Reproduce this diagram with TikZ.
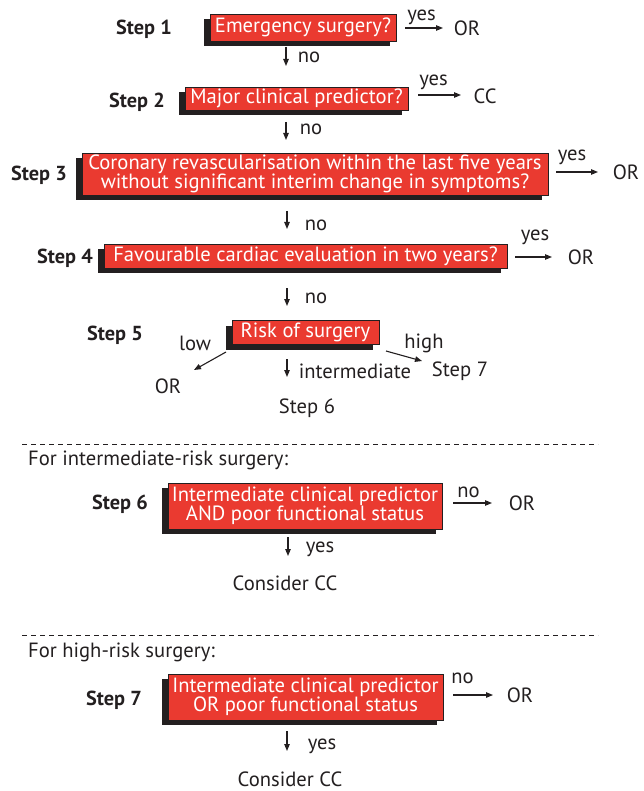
\documentclass[tikz,border=0pt]{standalone}
\usepackage{fontspec}
\setmainfont{PT Sans}
\usetikzlibrary{arrows.meta,shadows}
\definecolor{boxred}{RGB}{234,58,48}
\definecolor{ink}{RGB}{35,31,32}
\begin{document}
\begin{tikzpicture}[x=1pt,y=-1pt,
  every node/.style={font=\fontsize{20.6}{19}\selectfont, text=ink, inner sep=0pt},
  qbox/.style={draw=ink, line width=0.8pt, fill=boxred, text=white, align=center,
    drop shadow={shadow xshift=-6pt, shadow yshift=-5pt, fill=ink, opacity=1}},
  steplbl/.style={font=\fontsize{20.3}{19}\selectfont\bfseries},
  arr/.style={-{Triangle[length=7pt,width=5.5pt]}, line width=1.1pt, draw=ink},
  sepline/.style={dash pattern=on 5pt off 4pt, line width=0.8pt, draw=ink}
]
\useasboundingbox (0,0) rectangle (643,791);

% boxes
\node[qbox, minimum width=186pt, minimum height=27pt] (b1) at (303,27.5) {Emergency surgery?};
\node[qbox, minimum width=223pt, minimum height=23pt] (b2) at (296.5,98.5) {Major clinical predictor?};
\node[qbox, minimum width=466pt, minimum height=42pt] (b3) at (315,174) {Coronary revascularisation within the last five years\\without significant interim change in symptoms?};
\node[qbox, minimum width=403pt, minimum height=24pt] (b4) at (305.5,256) {Favourable cardiac evaluation in two years?};
\node[qbox, minimum width=147pt, minimum height=24pt] (b5) at (305.5,332.5) {Risk of surgery};
\node[qbox, minimum width=274pt, minimum height=46pt] (b6) at (305,506) {Intermediate clinical predictor\\AND poor functional status};
\node[qbox, minimum width=275pt, minimum height=46pt] (b7) at (305.5,697) {Intermediate clinical predictor\\OR poor functional status};

% step labels
\node[steplbl] (s1) at (144,29) {Step 1};
\node[steplbl] (s2) at (137,102) {Step 2};
\node[steplbl] (s3) at (39,175) {Step 3};
\node[steplbl] (s4) at (65,258) {Step 4};
\node[steplbl] (s5) at (115,335) {Step 5};
\node[steplbl] (s6) at (120,504) {Step 6};
\node[steplbl] (s7) at (114,700) {Step 7};

% side outcomes
\coordinate (y1a) at (405,28); \coordinate (y1b) at (443,28);
\node (yes1) at (421.5,17) {yes};
\node (o1) at (467,28) {OR};
\draw[arr] (y1a) -- (y1b);

\coordinate (y2a) at (418,95); \coordinate (y2b) at (461,95);
\node (yes2) at (433.5,82) {yes};
\node (o2) at (485,96) {CC};
\draw[arr] (y2a) -- (y2b);

\coordinate (y3a) at (556,172); \coordinate (y3b) at (598,172);
\node (yes3) at (572,157) {yes};
\node (o3) at (626,172) {OR};
\draw[arr] (y3a) -- (y3b);

\coordinate (y4a) at (515,257); \coordinate (y4b) at (552,257);
\node (yes4) at (535,237) {yes};
\node (o4) at (581,257) {OR};
\draw[arr] (y4a) -- (y4b);

\coordinate (n6a) at (453,503); \coordinate (n6b) at (492,503);
\node (no6) at (468.5,492) {no};
\node (o6) at (522,503) {OR};
\draw[arr] (n6a) -- (n6b);

\coordinate (n7a) at (453,695); \coordinate (n7b) at (493,695);
\node (no7) at (462.5,678) {no};
\node (o7) at (520,695) {OR};
\draw[arr] (n7a) -- (n7b);

% down arrows
\coordinate (d1a) at (286,47); \coordinate (d1b) at (286,66);
\draw[arr] (d1a) -- (d1b);
\node (no1) at (309,57) {no};

\coordinate (d2a) at (286,122); \coordinate (d2b) at (286,140);
\draw[arr] (d2a) -- (d2b);
\node (no2) at (311,129) {no};

\coordinate (d3a) at (287,211); \coordinate (d3b) at (287,229);
\draw[arr] (d3a) -- (d3b);
\node (no3) at (316,225) {no};

\coordinate (d4a) at (287,288); \coordinate (d4b) at (287,306);
\draw[arr] (d4a) -- (d4b);
\node (no4) at (316,298) {no};

% step 5 branches
\coordinate (lowa) at (226,352); \coordinate (lowb) at (194,370);
\draw[arr] (lowa) -- (lowb);
\node (low) at (195,343) {low};
\node (o5) at (168,386) {OR};

\coordinate (higha) at (386,351); \coordinate (highb) at (422,361);
\draw[arr] (higha) -- (highb);
\node (high) at (424,343) {high};
\node (t7) at (460,371) {Step 7};

\coordinate (d5a) at (287,359); \coordinate (d5b) at (287,377);
\draw[arr] (d5a) -- (d5b);
\node (inter) at (355,371) {intermediate};
\node (t6) at (307,408) {Step 6};

% separators
\coordinate (l1a) at (22,444); \coordinate (l1b) at (598,444);
\draw[sepline] (l1a) -- (l1b);
\node[anchor=west] (h6) at (28,460) {For intermediate-risk surgery:};

\coordinate (d6a) at (288,537); \coordinate (d6b) at (288,556);
\draw[arr] (d6a) -- (d6b);
\node (yes6) at (320,549) {yes};
\node (c6) at (285,583) {Consider CC};

\coordinate (l2a) at (22,635); \coordinate (l2b) at (598,635);
\draw[sepline] (l2a) -- (l2b);
\node[anchor=west] (h7) at (28,652) {For high-risk surgery:};

\coordinate (d7a) at (287,731); \coordinate (d7b) at (287,751);
\draw[arr] (d7a) -- (d7b);
\node (yes7) at (322,746) {yes};
\node (c7) at (290,779) {Consider CC};
\end{tikzpicture}
\end{document}
